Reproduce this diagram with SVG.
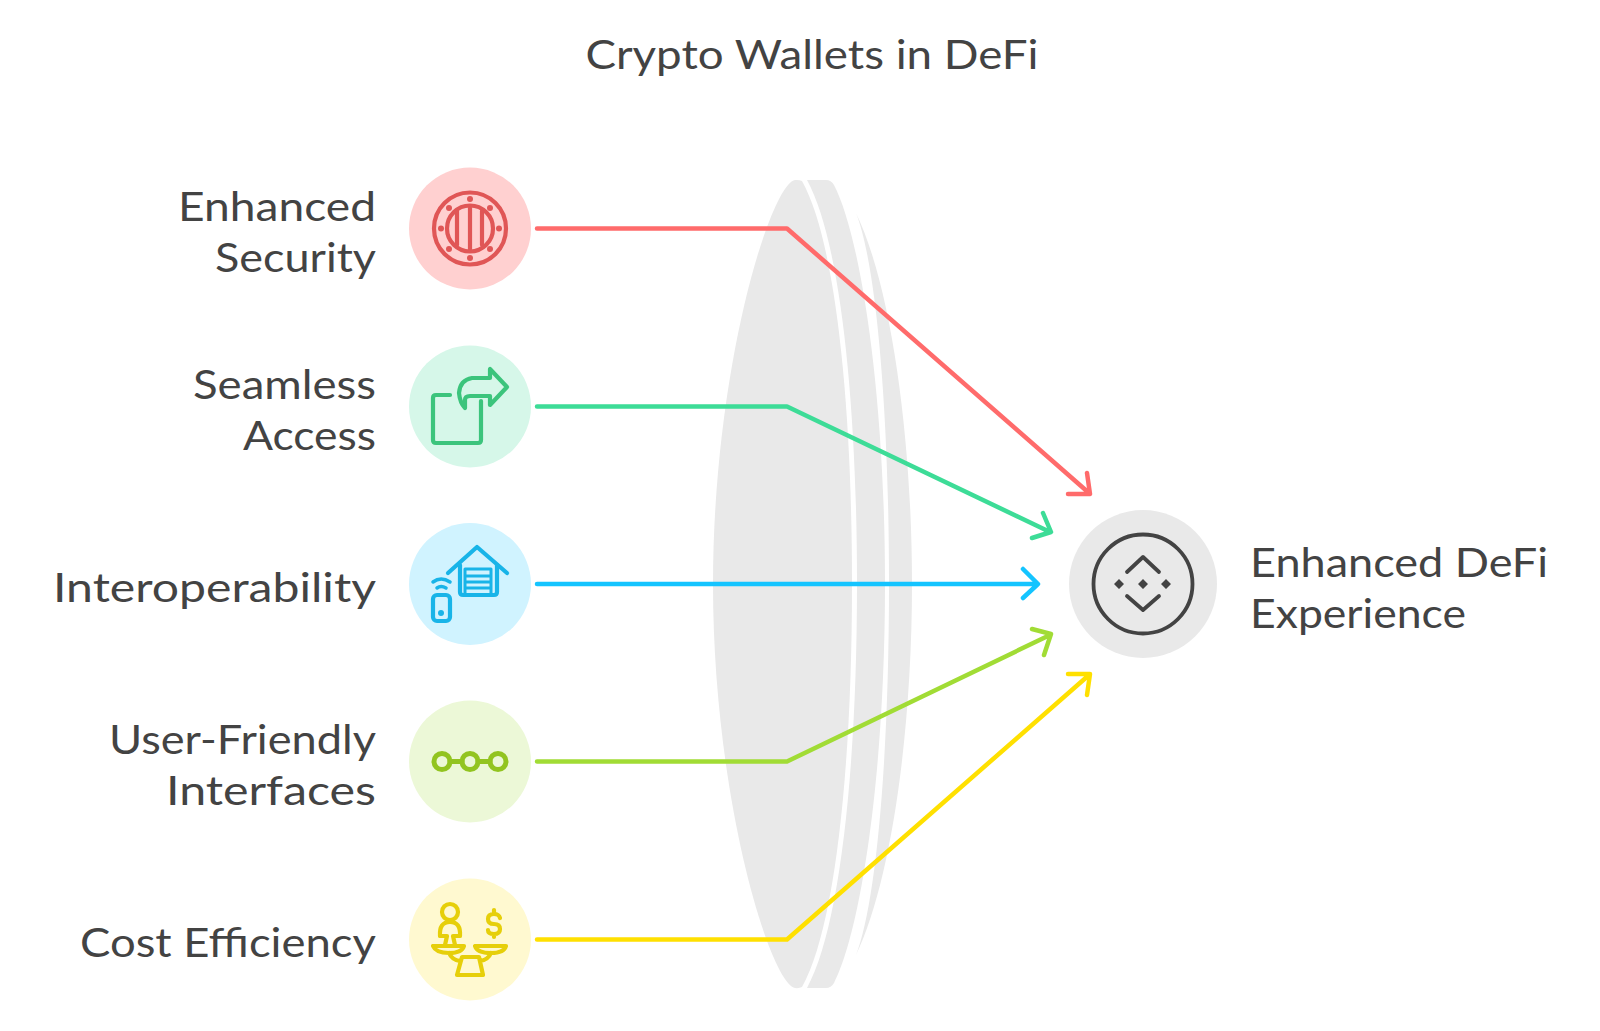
<svg xmlns="http://www.w3.org/2000/svg" width="1600" height="1031" viewBox="0 0 1600 1031">
<style>
text{font-family:"Lato","Open Sans",sans-serif;font-size:40px;fill:#434343}
.r{text-anchor:end}
.ic{fill:none;stroke-width:4.2;stroke-linecap:round;stroke-linejoin:round}
.cn{fill:none;stroke-width:4.5;stroke-linecap:round;stroke-linejoin:round}
</style>
<rect width="1600" height="1031" fill="#fff"/>
<text id="title" x="812" y="69" text-anchor="middle" textLength="453" lengthAdjust="spacingAndGlyphs">Crypto Wallets in DeFi</text>
<g id="lens" fill="#e9e9e9">
<path d="M795 180Q799 179.500 802 181C835 240 852 400 852 584C852 768 835 928 802 987Q799 988.500 795 988C770 983 713 798 713 584C713 370 770 185 795 180Z"/>
<path d="M807 180H826Q831 180 834 185C860 235 885 390 885 584C885 778 860 933 834 983Q831 988 826 988H807C840 928 857 768 857 584C857 400 840 240 807 180Z"/>
<path d="M856 213C875 260 889 400 889 584C889 768 875 908 856 955C892 880 912 728 912 584C912 440 892 288 856 213Z"/>
</g>
<g id="connectors">
<path class="cn" stroke="#ff6b6b" d="M537 228.500H787L1089 493M1087 473L1090 494L1068 494"/>
<path class="cn" stroke="#3ddc97" d="M537 406.500H787L1050 532M1043 513L1051 532L1032 538"/>
<path class="cn" stroke="#14c4ff" d="M537 584H1037M1023 569L1038 584L1023 598"/>
<path class="cn" stroke="#a1dc35" d="M537 761.500H787L1050 635M1032 629L1051 634L1044 655"/>
<path class="cn" stroke="#ffe000" d="M537 939.500H787L1089 675M1068 674L1090 674L1087 695"/>
</g>
<g id="n1"><circle cx="470" cy="228.500" r="61" fill="#ffd0d0"/>
<g class="ic" stroke="#e05656"><circle cx="470" cy="228.500" r="36"/><circle cx="470" cy="228.500" r="23"/><path d="M470 208V249M457 211V245M482 211V245"/></g>
<g fill="#e05656"><circle cx="470" cy="199" r="3"/><circle cx="470" cy="258" r="3"/><circle cx="441" cy="228.500" r="3"/><circle cx="499" cy="228.500" r="3"/><circle cx="449" cy="208" r="3"/><circle cx="490" cy="208" r="3"/><circle cx="449" cy="249" r="3"/><circle cx="490" cy="249" r="3"/></g>
<text class="r" x="376" y="221" textLength="198" lengthAdjust="spacingAndGlyphs">Enhanced</text><text class="r" x="376" y="272" textLength="161" lengthAdjust="spacingAndGlyphs">Security</text></g>
<g id="n2"><circle cx="470" cy="406.500" r="61" fill="#d6f7e9"/>
<g class="ic" stroke="#3cc47c"><path d="M450 395H436Q433 395 433 398V440Q433 443 436 443H478Q481 443 481 440V401"/><path d="M490 378H472Q460 380 459 393Q460 403 465 408V400Q465 396 470 396H490V405L507 387L490 369Z"/></g>
<text class="r" x="376" y="399" textLength="183" lengthAdjust="spacingAndGlyphs">Seamless</text><text class="r" x="376" y="450" textLength="133" lengthAdjust="spacingAndGlyphs">Access</text></g>
<g id="n3"><circle cx="470" cy="584" r="61" fill="#d0f3ff"/>
<g class="ic" stroke="#18b4e8"><path d="M448 573L477 547L507 573"/><path d="M460 565V592Q460 595 463 595H494Q497 595 497 592V565"/><path d="M465 569H491V595H465ZM465 576H491M465 582H491M465 588H491" stroke-width="3"/><rect x="433" y="595" width="17" height="26" rx="4"/><path d="M433 582Q441 576 450 582M437 588Q441 585 446 588" stroke-width="3.500"/></g>
<circle cx="441" cy="613" r="3" fill="#18b4e8"/>
<text class="r" x="376" y="602" textLength="323" lengthAdjust="spacingAndGlyphs">Interoperability</text></g>
<g id="n4"><circle cx="470" cy="761.500" r="61" fill="#ecf8d7"/>
<g class="ic" stroke="#92c420" style="stroke-width:5"><circle cx="442" cy="761.500" r="8"/><circle cx="470" cy="761.500" r="8"/><circle cx="498" cy="761.500" r="8"/><path d="M450 761.500H462M478 761.500H490"/></g>
<text class="r" x="376" y="754" textLength="267" lengthAdjust="spacingAndGlyphs">User-Friendly</text><text class="r" x="376" y="805" textLength="210" lengthAdjust="spacingAndGlyphs">Interfaces</text></g>
<g id="n5"><circle cx="470" cy="939.500" r="61" fill="#fff9d0"/>
<g class="ic" stroke="#e6cf0a"><circle cx="450" cy="912" r="8"/><path d="M440 936Q439 922 450 922Q461 922 460 936H453L455 945M440 936H447L445 945M433 946H464Q462 953 449 953Q436 953 433 946ZM475 946H506Q504 953 491 953Q477 953 475 946ZM449 953Q452 960 460 961M491 953Q488 960 480 961M462 957H479L483 975H457ZM500 918Q499 914 494 914Q488 914 488 919Q488 924 494 924Q500 924 500 929Q500 934 494 934Q488 934 488 930M494 910V914M494 934V937"/></g>
<text class="r" x="376" y="957" textLength="296" lengthAdjust="spacingAndGlyphs">Cost Efficiency</text></g>
<g id="target"><circle cx="1143" cy="584" r="74" fill="#e9e9e9"/>
<g class="ic" stroke="#434343" style="stroke-width:3.800"><circle cx="1143" cy="584" r="49.500"/><path d="M1127 572L1143 557L1159 572M1127 596L1143 610L1159 596"/></g>
<g fill="#434343"><path d="M1119 579L1124 584L1119 589L1114 584ZM1143 579L1148 584L1143 589L1138 584ZM1166 579L1171 584L1166 589L1161 584Z"/></g>
<text x="1250" y="577" textLength="298" lengthAdjust="spacingAndGlyphs">Enhanced DeFi</text><text x="1250" y="628" textLength="216" lengthAdjust="spacingAndGlyphs">Experience</text></g>
</svg>
